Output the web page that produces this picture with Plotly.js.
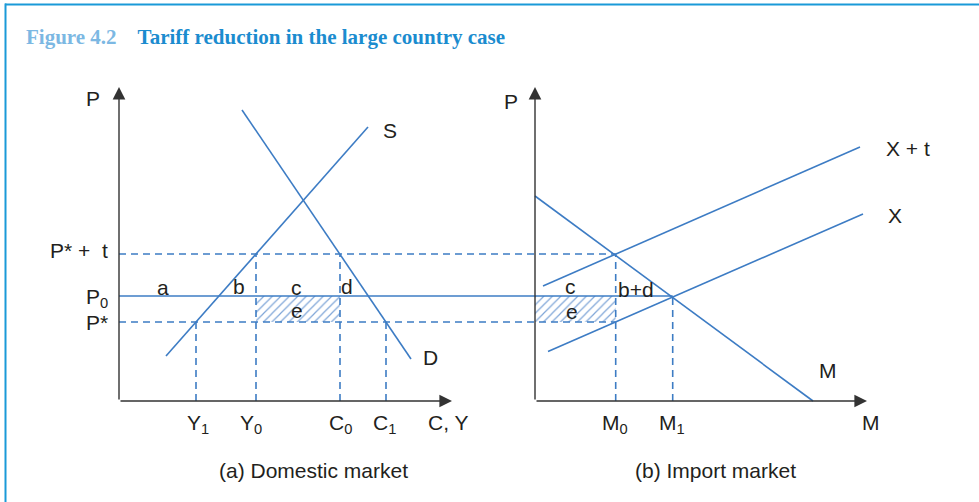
<!DOCTYPE html>
<html>
<head>
<meta charset="utf-8">
<script src="https://cdn.plot.ly/plotly-3.0.1.min.js"></script>
<style>html,body{margin:0;padding:0;background:#fff;}#chart{width:979px;height:502px;}</style>
</head>
<body>
<div id="chart"></div>
<script>
// ---- data (diagram units: x = quantity position, y = price) ----
const domesticOrigin = 119;
const importOrigin = 535;
const axisTop = 314;
const xAxisEnd = [452, 867];

const priceLabels = ['P* +\u00a0 t', 'P<sub>0</sub>', 'P*'];
const priceValues = [147, 105, 79];

const supplyQ = [166, 368];
const supplyP = [45, 274];
const demandQ = [242, 411];
const demandP = [291, 42];

const importDemandQ = [535, 813];
const importDemandP = [205, 0];
const exportSupplyQ = [548, 863];
const exportSupplyP = [49.5, 187];
const exportSupplyTariffQ = [543, 860];
const exportSupplyTariffP = [115, 254];

const qtyLabels = ['Y<sub>1</sub>', 'Y<sub>0</sub>', 'C<sub>0</sub>', 'C<sub>1</sub>', 'M<sub>0</sub>', 'M<sub>1</sub>'];
const qtyValues = [196, 256, 340, 386, 615.7, 672.7];
const qtyHeights = [79, 147, 147, 79, 147, 105];

const hatchQ1 = [256, 340];
const hatchQ2 = [535, 615.7];

const curveLabels = ['S', 'D', 'X + t', 'X', 'M'];
const curveLabelX = [390, 430, 908, 895, 828];
const curveLabelY = [271, 44, 253, 186, 31];

const areaLabels = ['a', 'b', 'c', 'd', 'e', 'c', 'b+d', 'e'];
const areaLabelX = [163, 239, 296, 347, 297, 570, 636, 572];
const areaLabelY = [114, 115, 114, 115, 91, 115, 112, 90];

const blue = '#3d7cc4';
const ink = '#231f20';
const lab = {family: 'Liberation Sans, Arial, sans-serif', size: 21, color: ink};

const traces = [];
function line(xs, ys, dash) {
  traces.push({x: xs, y: ys, type: 'scatter', mode: 'lines', hoverinfo: 'skip',
    line: {color: blue, width: 1.6, dash: dash || 'solid'}});
}
// hatched rectangles
[hatchQ1, hatchQ2].forEach(q => {
  traces.push({x: [q[0], q[1], q[1], q[0], q[0]], y: [priceValues[2], priceValues[2], priceValues[1], priceValues[1], priceValues[2]],
    type: 'scatter', mode: 'lines', fill: 'toself', hoverinfo: 'skip',
    fillcolor: 'rgba(255,255,255,0)', line: {width: 0, color: 'rgba(0,0,0,0)'},
    fillpattern: {shape: '/', fgcolor: '#7fa6d8', bgcolor: 'white', size: 6, solidity: 0.2}});
});
// price lines
line([domesticOrigin, qtyValues[4]], [priceValues[0], priceValues[0]], '7px,5px');
line([domesticOrigin, qtyValues[5]], [priceValues[1], priceValues[1]]);
line([domesticOrigin, qtyValues[4]], [priceValues[2], priceValues[2]], '7px,5px');
// vertical quantity lines
qtyValues.forEach((q, i) => line([q, q], [0, qtyHeights[i]], '7px,5px'));
// curves
line(supplyQ, supplyP);
line(demandQ, demandP);
line(importDemandQ, importDemandP);
line(exportSupplyQ, exportSupplyP);
line(exportSupplyTariffQ, exportSupplyTariffP);

const annotations = [];
function txt(t, x, y, xanchor, extra) {
  annotations.push(Object.assign({text: t, x: x, y: y, xref: 'x', yref: 'y', showarrow: false,
    xanchor: xanchor || 'center', yanchor: 'middle', font: lab}, extra || {}));
}
// axes with arrows
[domesticOrigin, importOrigin].forEach((o, i) => {
  annotations.push({x: o, y: axisTop, ax: o, ay: 0, xref: 'x', yref: 'y', axref: 'x', ayref: 'y', text: '',
    showarrow: true, arrowhead: 2, arrowsize: 1.8, arrowwidth: 1.4, arrowcolor: '#333', standoff: 0});
  annotations.push({x: xAxisEnd[i], y: 0, ax: o, ay: 0, xref: 'x', yref: 'y', axref: 'x', ayref: 'y', text: '',
    showarrow: true, arrowhead: 2, arrowsize: 1.8, arrowwidth: 1.4, arrowcolor: '#333', standoff: 0});
});
txt('P', 93, 303);
txt('P', 511, 300);
priceLabels.forEach((p, i) => txt(p, 110, [151, 103, 79][i], 'right'));
qtyLabels.forEach((q, i) => txt(q, [198, 251, 340, 384, 615, 672][i], -23));
txt('C, Y', 448, -21);
txt('M', 871, -21);
curveLabels.forEach((c, i) => txt(c, curveLabelX[i], curveLabelY[i]));
areaLabels.forEach((a, i) => txt(a, areaLabelX[i], areaLabelY[i]));
txt('(a) Domestic market', 313, -69);
txt('(b) Import market', 715, -69);

const layout = {
  width: 979, height: 502,
  margin: {l: 0, r: 0, t: 0, b: 0},
  paper_bgcolor: 'white', plot_bgcolor: 'white',
  showlegend: false,
  title: {
    text: '<span style="color:#7cb8e3">Figure 4.2</span>\u2003Tariff reduction in the large country case',
    x: 26 / 979, xanchor: 'left', xref: 'paper', y: 1 - 37 / 502, yanchor: 'middle', yref: 'container',
    font: {family: 'Liberation Serif, serif', size: 21, weight: 'bold', color: '#1b8ccf'}
  },
  xaxis: {range: [0, 979], visible: false, fixedrange: true},
  yaxis: {range: [-101, 401], visible: false, fixedrange: true},
  annotations: annotations,
  shapes: [
    {type: 'line', xref: 'paper', yref: 'paper', x0: 5 / 979, x1: 1, y0: 1 - 4.5 / 502, y1: 1 - 4.5 / 502, line: {color: '#1a9ad8', width: 2}},
    {type: 'line', xref: 'paper', yref: 'paper', x0: 5.5 / 979, x1: 5.5 / 979, y0: 0, y1: 1 - 3.5 / 502, line: {color: '#1a9ad8', width: 2}}
  ]
};
Plotly.newPlot('chart', traces, layout, {staticPlot: true, displayModeBar: false});
</script>
</body>
</html>
